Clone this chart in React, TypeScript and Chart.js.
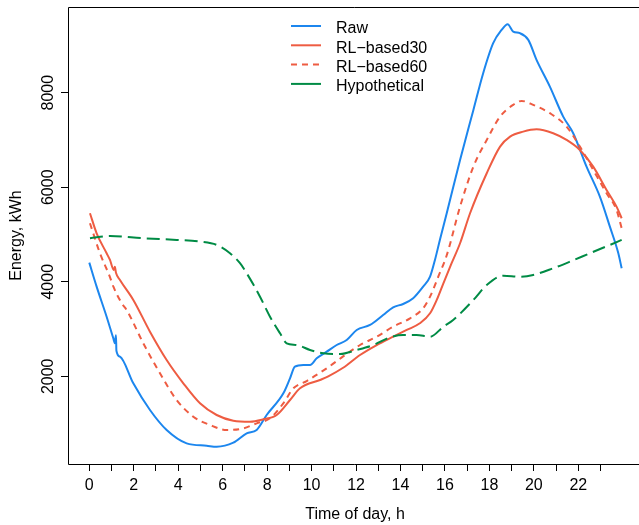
import React, { useEffect, useRef } from "react";
import { Chart, registerables } from "chart.js";

Chart.register(...registerables);

const FONT = "'Liberation Sans', Arial, Helvetica, sans-serif";

const seriesNames = ["Raw", "RL\u2212based30", "RL\u2212based60", "Hypothetical"];

const rawHours = [0, 0.33, 0.78, 1.08, 1.15, 1.2, 1.22, 1.38, 1.98, 2.73, 3.48, 4.38, 5.28, 5.73, 6.48, 7.08, 7.53, 7.98, 8.73, 9.03, 9.25, 9.63, 9.93, 10.23, 10.68, 11.13, 11.58, 12.03, 12.63, 13.22, 13.67, 14.12, 14.57, 15.02, 15.33, 15.55, 15.78, 16.08, 16.68, 17.28, 17.72, 18.17, 18.55, 18.82, 19.07, 19.37, 19.75, 20.12, 20.72, 21.32, 21.77, 22.37, 22.97, 23.42, 23.8, 23.95];
const rawValues = [4404, 3897, 3261, 2804, 2700, 2870, 2540, 2415, 1852, 1287, 864, 582, 531, 510, 595, 793, 864, 1181, 1640, 1957, 2203, 2239, 2239, 2381, 2521, 2662, 2768, 2980, 3086, 3297, 3460, 3530, 3651, 3897, 4108, 4461, 4900, 5450, 6578, 7636, 8413, 9048, 9329, 9450, 9293, 9259, 9117, 8694, 8129, 7494, 7143, 6436, 5801, 5166, 4603, 4286];

const rl30Hours = [0.03, 0.33, 0.78, 0.93, 1.1, 1.15, 1.2, 1.38, 1.98, 2.73, 3.48, 4.23, 4.98, 5.73, 6.48, 7.23, 7.83, 8.43, 9.03, 9.48, 10.38, 10.75, 11.42, 12.18, 12.93, 13.67, 14.28, 14.87, 15.33, 15.63, 15.93, 16.3, 16.68, 17.13, 17.88, 18.48, 18.93, 19.52, 20.12, 20.87, 21.47, 22.07, 22.67, 23.27, 23.72, 23.95];
const rl30Values = [5450, 5026, 4603, 4461, 4250, 4320, 4190, 4038, 3615, 2944, 2345, 1852, 1429, 1181, 1060, 1039, 1090, 1181, 1498, 1746, 1922, 2000, 2180, 2451, 2662, 2838, 2980, 3121, 3333, 3615, 3968, 4392, 4815, 5450, 6296, 6860, 7071, 7177, 7227, 7143, 7001, 6789, 6436, 5943, 5589, 5344];

const rl60Hours = [0.03, 0.48, 0.93, 1.08, 1.46, 1.68, 2.43, 3.18, 3.93, 4.68, 5.43, 6.18, 6.93, 7.53, 8.13, 8.73, 9.18, 9.78, 10.68, 11.42, 12.18, 12.93, 13.67, 14.43, 15.02, 15.33, 15.7, 16.08, 16.68, 17.28, 17.88, 18.48, 19.07, 19.45, 19.97, 20.72, 21.47, 22.07, 22.67, 23.27, 23.72, 23.95];
const rl60Values = [5238, 4603, 4100, 3900, 3545, 3403, 2698, 2063, 1498, 1145, 969, 864, 899, 1005, 1111, 1429, 1746, 1900, 2169, 2420, 2662, 2838, 3050, 3227, 3439, 3685, 4108, 4560, 5589, 6436, 7001, 7494, 7742, 7826, 7742, 7566, 7283, 6860, 6366, 5873, 5520, 5132];

const hypHours = [0.03, 0.93, 2.43, 3.93, 4.98, 5.73, 6.33, 6.78, 7.08, 7.68, 8.13, 8.58, 8.88, 9.33, 9.93, 10.53, 11.28, 12.03, 12.78, 13.53, 14.12, 14.72, 15.33, 15.93, 16.37, 17.28, 17.88, 18.63, 19.37, 19.97, 20.87, 21.62, 22.52, 23.42, 23.95];
const hypValues = [4921, 4969, 4921, 4885, 4849, 4779, 4603, 4392, 4180, 3685, 3261, 2910, 2698, 2662, 2557, 2487, 2472, 2557, 2662, 2825, 2874, 2874, 2838, 3050, 3191, 3615, 3932, 4129, 4108, 4144, 4286, 4425, 4603, 4779, 4885];

const xTickValues = [0, 1, 2, 3, 4, 5, 6, 7, 8, 9, 10, 11, 12, 13, 14, 15, 16, 17, 18, 19, 20, 21, 22, 23];
const xLabelValues = [0, 2, 4, 6, 8, 10, 12, 14, 16, 18, 20, 22];
const yTickValues = [2000, 4000, 6000, 8000];

const colors = ["#1C86EE", "#EE5C42", "#EE5C42", "#008B45"];
const dashes: number[][] = [[], [], [6, 5], [13, 6]];
const legendDashes: number[][] = [[], [], [6, 5], []];

function pts(hs: number[], vs: number[]) {
  return hs.map((h, i) => ({ x: h, y: vs[i] }));
}

export default function App() {
  const ref = useRef<HTMLCanvasElement>(null);
  useEffect(() => {
    const canvas = ref.current!;
    const overlay = {
      id: "overlay",
      afterDraw(chart: any) {
        const ctx = chart.ctx as CanvasRenderingContext2D;
        const a = chart.chartArea;
        ctx.save();
        ctx.strokeStyle = "#000";
        ctx.lineWidth = 1;
        ctx.setLineDash([]);
        ctx.beginPath();
        ctx.moveTo(a.right + 2, a.top + 0.5);
        ctx.lineTo(a.left + 0.5, a.top + 0.5);
        ctx.lineTo(a.left + 0.5, a.bottom + 0.5);
        ctx.lineTo(a.right + 2, a.bottom + 0.5);
        ctx.stroke();
        ctx.fillStyle = "#000";
        ctx.font = `16px ${FONT}`;
        const ys = chart.scales.y;
        ys.ticks.forEach((t: any) => {
          const py = ys.getPixelForValue(t.value);
          ctx.save();
          ctx.translate(53, py);
          ctx.rotate(-Math.PI / 2);
          ctx.textAlign = "center";
          ctx.textBaseline = "alphabetic";
          ctx.fillText(String(t.value), 0, 0);
          ctx.restore();
        });
        ctx.save();
        ctx.translate(20.5, (a.top + a.bottom) / 2);
        ctx.rotate(-Math.PI / 2);
        ctx.textAlign = "center";
        ctx.textBaseline = "alphabetic";
        ctx.fillText("Energy, kWh", 0, 0);
        ctx.restore();
        ctx.textAlign = "center";
        ctx.textBaseline = "alphabetic";
        ctx.fillText("Time of day, h", 355, 518.5);
        chart.data.datasets.forEach((ds: any, i: number) => {
          const ly = 26 + i * 19.3;
          ctx.strokeStyle = ds.borderColor;
          ctx.lineWidth = 2;
          ctx.setLineDash(legendDashes[i]);
          ctx.beginPath();
          ctx.moveTo(291, ly);
          ctx.lineTo(321, ly);
          ctx.stroke();
          ctx.setLineDash([]);
          ctx.fillStyle = "#000";
          ctx.textAlign = "left";
          ctx.textBaseline = "alphabetic";
          ctx.fillText(ds.label, 336, ly + 7.3);
        });
        ctx.restore();
      },
    };
    const allPts = [pts(rawHours, rawValues), pts(rl30Hours, rl30Values), pts(rl60Hours, rl60Values), pts(hypHours, hypValues)];
    const chart = new Chart(canvas, {
      type: "line",
      data: {
        datasets: allPts.map((d, i) => ({
          label: seriesNames[i],
          data: d,
          borderColor: colors[i],
          backgroundColor: colors[i],
          borderWidth: 2,
          borderDash: dashes[i],
          pointRadius: 0,
          cubicInterpolationMode: "monotone",
          fill: false,
          order: 4 - i,
        })),
      },
      options: {
        responsive: false,
        maintainAspectRatio: false,
        animation: false,
        devicePixelRatio: 1,
        layout: { padding: { top: 7, right: 0, left: 0, bottom: 0 } },
        plugins: { legend: { display: false }, tooltip: { enabled: false } },
        scales: {
          x: {
            type: "linear",
            min: -0.958,
            max: 24.73,
            afterBuildTicks: (s: any) => {
              s.ticks = xTickValues.map((v) => ({ value: v }));
            },
            afterFit: (s: any) => {
              s.height = 61;
            },
            border: { display: false },
            grid: { drawOnChartArea: false, drawTicks: true, tickLength: 7, color: "#000", lineWidth: 1 },
            ticks: {
              autoSkip: false,
              maxRotation: 0,
              minRotation: 0,
              padding: 5,
              color: "#000",
              font: { family: FONT, size: 16 },
              callback: (v: any) => (xLabelValues.includes(Number(v)) ? String(v) : ""),
            },
          },
          y: {
            type: "linear",
            min: 144.5,
            max: 9813,
            afterBuildTicks: (s: any) => {
              s.ticks = yTickValues.map((v) => ({ value: v }));
            },
            afterFit: (s: any) => {
              s.width = 68;
            },
            border: { display: false },
            grid: { drawOnChartArea: false, drawTicks: true, tickLength: 7, color: "#000", lineWidth: 1 },
            ticks: { display: false },
          },
        },
      },
      plugins: [overlay],
    } as any);
    return () => chart.destroy();
  }, []);
  return (
    <div style={{ position: "fixed", left: 0, top: 0, width: 639, height: 525, background: "#fff", overflow: "hidden" }}>
      <canvas ref={ref} width={639} height={525} style={{ display: "block", width: 639, height: 525 }} />
    </div>
  );
}
